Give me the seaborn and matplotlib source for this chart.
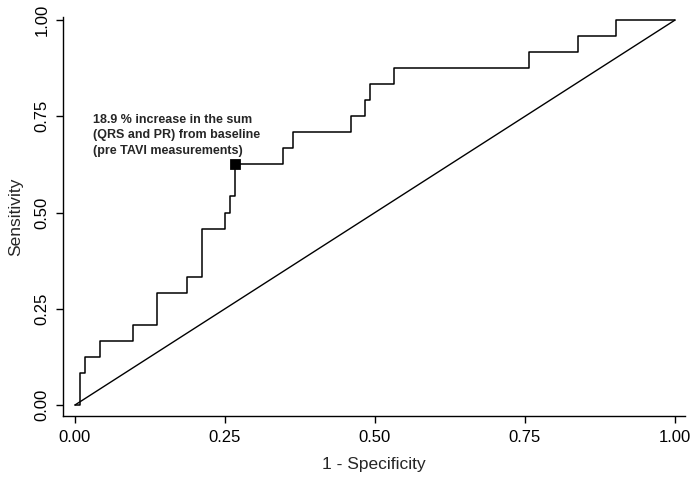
import matplotlib
matplotlib.use("Agg")
import matplotlib.pyplot as plt
import seaborn as sns
import pandas as pd

# ROC step vertices (1 - specificity, sensitivity)
fpr_steps = [0.0, 0.008, 0.017, 0.041, 0.097, 0.137, 0.186, 0.211, 0.250,
             0.258, 0.266, 0.346, 0.363, 0.460, 0.484, 0.492, 0.531, 0.757,
             0.838, 0.902, 1.0]
tpr_steps = [0.0, 0.083, 0.125, 0.167, 0.208, 0.292, 0.333, 0.458, 0.500,
             0.542, 0.625, 0.667, 0.708, 0.750, 0.792, 0.833, 0.875, 0.917,
             0.958, 1.0, 1.0]

# chance line
ref_x = [0.0, 1.0]
ref_y = [0.0, 1.0]

# chosen cut-off point
cut_x = [0.266]
cut_y = [0.625]
cut_label = "18.9 % increase in the sum\n(QRS and PR) from baseline\n(pre TAVI measurements)"

x_ticks = [0.0, 0.25, 0.5, 0.75, 1.0]
y_ticks = [0.0, 0.25, 0.5, 0.75, 1.0]

# expand the step vertices into ROC coordinates (horizontal run, then vertical jump)
roc_x, roc_y = [fpr_steps[0]], [tpr_steps[0]]
for i in range(1, len(fpr_steps)):
    roc_x += [fpr_steps[i], fpr_steps[i]]
    roc_y += [tpr_steps[i - 1], tpr_steps[i]]
roc = pd.DataFrame({"fpr": roc_x, "tpr": roc_y})

sns.set_style("white")
plt.rcParams["font.family"] = ["Liberation Sans", "DejaVu Sans"]

fig = plt.figure(figsize=(6.94, 4.78), dpi=100)
ax = fig.add_axes([0.0912, 0.1297, 0.8958, 0.8347])

sns.lineplot(data=roc, x="fpr", y="tpr", sort=False, estimator=None,
             color="black", linewidth=1.1, ax=ax)
sns.lineplot(x=ref_x, y=ref_y, color="black", linewidth=1.0, ax=ax)
sns.scatterplot(x=cut_x, y=cut_y, marker="s", s=50, color="black",
                edgecolor="black", zorder=5, ax=ax)

ax.text(0.030, 0.757, cut_label, fontsize=9, fontweight="bold",
        ha="left", va="top", linespacing=1.4)

ax.set_xlim(-0.0195, 1.0167)
ax.set_ylim(-0.0286, 1.008)
ax.set_xticks(x_ticks)
ax.set_yticks(y_ticks)
ax.set_xticklabels([f"{t:.2f}" for t in x_ticks])
ax.set_yticklabels([f"{t:.2f}" for t in y_ticks], rotation=90, va="center")
ax.tick_params(axis="both", direction="out", length=5, width=1.0,
               colors="black", labelsize=12, bottom=True, left=True, pad=5)

for side in ["top", "right"]:
    ax.spines[side].set_visible(False)
for side in ["left", "bottom"]:
    ax.spines[side].set_color("black")
    ax.spines[side].set_linewidth(1.0)

ax.set_xlabel("1 - Specificity", fontsize=12.5, labelpad=9)
ax.set_ylabel("Sensitivity", fontsize=12.5, labelpad=8)

fig.savefig("out.png", dpi=100, facecolor="white")
